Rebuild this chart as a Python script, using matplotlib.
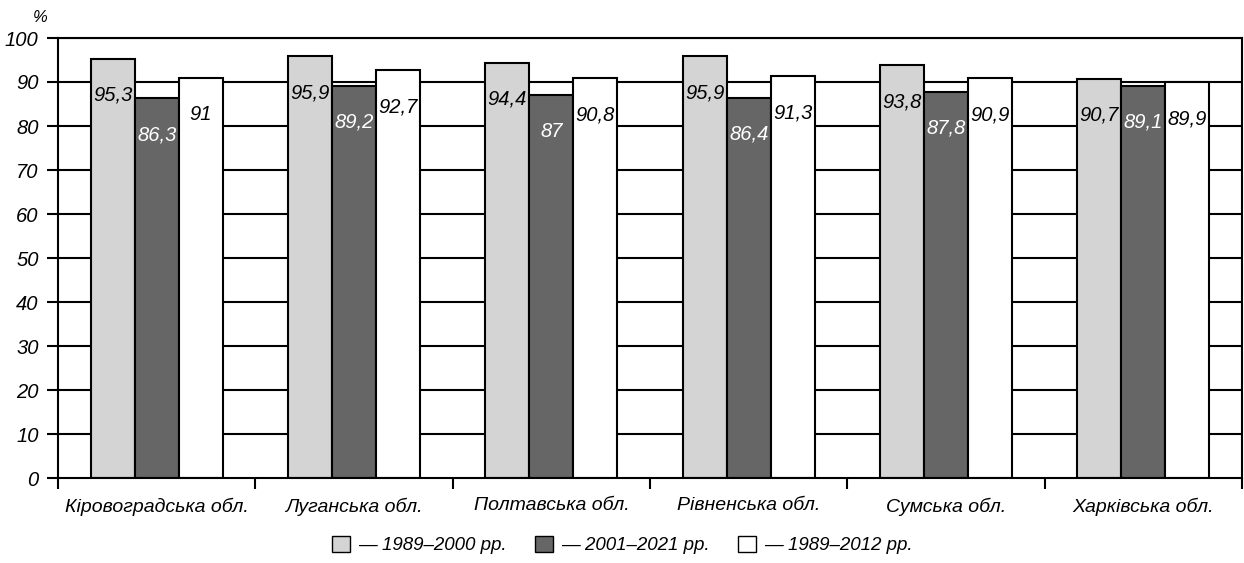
import numpy as np
import matplotlib
matplotlib.use('Agg')
import matplotlib.pyplot as plt
from matplotlib.patches import Patch

regions = ["Кіровоградська обл.", "Луганська обл.", "Полтавська обл.",
           "Рівненська обл.", "Сумська обл.", "Харківська обл."]
p1989_2000 = [95.3, 95.9, 94.4, 95.9, 93.8, 90.7]
p2001_2021 = [86.3, 89.2, 87.0, 86.4, 87.8, 89.1]
p1989_2012 = [91.0, 92.7, 90.8, 91.3, 90.9, 89.9]
series_labels = ["— 1989–2000 рр.", "— 2001–2021 рр.", "— 1989–2012 рр."]
yticks = [0, 10, 20, 30, 40, 50, 60, 70, 80, 90, 100]


def fmt(v):
    s = f"{v:.1f}".replace(".", ",")
    return s[:-2] if s.endswith(",0") else s


def main():
    plt.rcParams['font.family'] = ['Liberation Sans', 'DejaVu Sans']
    plt.rcParams['font.style'] = 'italic'
    plt.rcParams['font.size'] = 13

    fig = plt.figure(figsize=(12.44, 5.63), dpi=100)
    ax = fig.add_axes([58 / 1244, 1 - 478 / 563, (1242 - 58) / 1244, (478 - 38) / 563])

    x = np.arange(len(regions))
    w = 0.223
    colors = ['#d4d4d4', '#666666', '#ffffff']
    text_colors = ['black', 'white', 'black']
    series = [p1989_2000, p2001_2021, p1989_2012]

    for yv in yticks[1:]:
        ax.axhline(yv, color='black', lw=1.5, zorder=1)

    for i, (vals, c, tc) in enumerate(zip(series, colors, text_colors)):
        xs = x + (i - 1) * w
        ax.bar(xs, vals, w, color=c, edgecolor='black', linewidth=1.5, zorder=2)
        for xi, v in zip(xs, vals):
            ax.text(xi, v - 8.3, fmt(v), ha='center', va='center', color=tc,
                    fontsize=14.5, zorder=3)

    ax.set_xlim(-0.5, len(regions) - 0.5)
    ax.set_ylim(0, 100)
    ax.set_yticks(yticks)
    ax.set_yticklabels([str(t) for t in yticks], fontsize=14.5)
    ax.tick_params(axis='y', length=8, width=1.5, pad=6)

    ax.set_xticks(np.arange(len(regions) + 1) - 0.5)
    ax.set_xticklabels([])
    ax.set_xticks(x, minor=True)
    ax.set_xticklabels(regions, minor=True, fontsize=14)
    ax.tick_params(axis='x', which='major', length=8, width=1.5)
    ax.tick_params(axis='x', which='minor', length=0, pad=14)

    for s in ax.spines.values():
        s.set_linewidth(1.5)

    fig.text(40 / 1244, 1 - 17 / 563, "%", fontsize=12, ha='center', va='center')

    handles = [Patch(facecolor=c, edgecolor='black', linewidth=1) for c in colors]
    fig.legend(handles, series_labels, loc='center', bbox_to_anchor=(0.5, 1 - 545 / 563),
               ncol=3, frameon=False, fontsize=13.5, handlelength=1.0, handleheight=1.0,
               handletextpad=0.4, columnspacing=1.5)

    plt.savefig('out.png', dpi=100)


if __name__ == "__main__":
    main()
